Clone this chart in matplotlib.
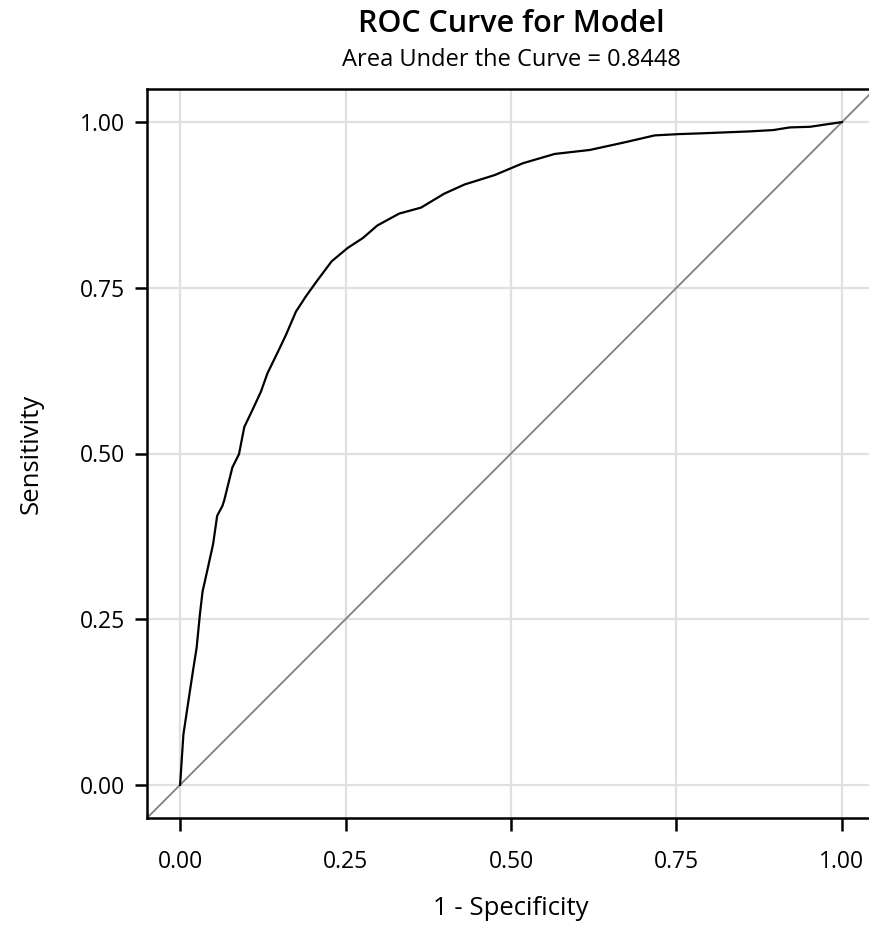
import matplotlib
matplotlib.use('Agg')
import matplotlib.pyplot as plt

# ROC curve points
fpr = [0.0, 0.005, 0.014, 0.019, 0.025, 0.030, 0.034, 0.041, 0.050, 0.056,
       0.064, 0.0666, 0.079, 0.089, 0.097, 0.109, 0.122, 0.132, 0.150, 0.160,
       0.175, 0.190, 0.208, 0.229, 0.253, 0.276, 0.298, 0.331, 0.364, 0.399,
       0.430, 0.475, 0.518, 0.566, 0.619, 0.674, 0.717, 0.755, 0.785, 0.860,
       0.896, 0.921, 0.952, 0.979, 1.0]
tpr = [0.0, 0.076, 0.136, 0.169, 0.207, 0.258, 0.292, 0.323, 0.364, 0.406,
       0.421, 0.429, 0.479, 0.499, 0.540, 0.565, 0.593, 0.621, 0.658, 0.679,
       0.714, 0.737, 0.762, 0.790, 0.810, 0.825, 0.844, 0.862, 0.871, 0.892,
       0.906, 0.920, 0.938, 0.952, 0.958, 0.970, 0.980, 0.982, 0.983, 0.986,
       0.988, 0.992, 0.993, 0.997, 1.0]
ticks = [0.0, 0.25, 0.5, 0.75, 1.0]
auc = 0.8448

plt.rcParams['font.family'] = ['Open Sans', 'DejaVu Sans']

fig = plt.figure(figsize=(8.69, 9.26), dpi=100)
ax = fig.add_axes([147/869, 108/926, 728/869, 729/926])

ax.plot([-0.05, 1.05], [-0.05, 1.05], color='#808080', lw=1.3, zorder=2)
ax.plot(fpr, tpr, color='black', lw=1.6, zorder=3)

ax.set_xlim(-0.05, 1.05)
ax.set_ylim(-0.05, 1.05)
ax.set_xticks(ticks)
ax.set_yticks(ticks)
ax.set_xticklabels(['%.2f' % t for t in ticks])
ax.set_yticklabels(['%.2f' % t for t in ticks])
ax.grid(True, color='#e0e0e0', lw=1.6, zorder=0)
ax.set_axisbelow(True)
for s in ax.spines.values():
    s.set_linewidth(1.8)
ax.tick_params(direction='out', length=9, width=1.8, labelsize=16.5)
ax.tick_params(axis='x', pad=14)
ax.tick_params(axis='y', pad=7)

ax.set_xlabel('1 - Specificity', fontsize=18.5, labelpad=16)
ax.set_ylabel('Sensitivity', fontsize=18.5, labelpad=26)

cx = (147 + 875) / 2 / 869
fig.text(cx, 1 - 24/926, 'ROC Curve for Model', ha='center', va='center',
         fontsize=22, fontweight='semibold')
fig.text(cx, 1 - 60/926, 'Area Under the Curve = %.4f' % auc, ha='center', va='center',
         fontsize=17)

fig.savefig('out.png', dpi=100)
